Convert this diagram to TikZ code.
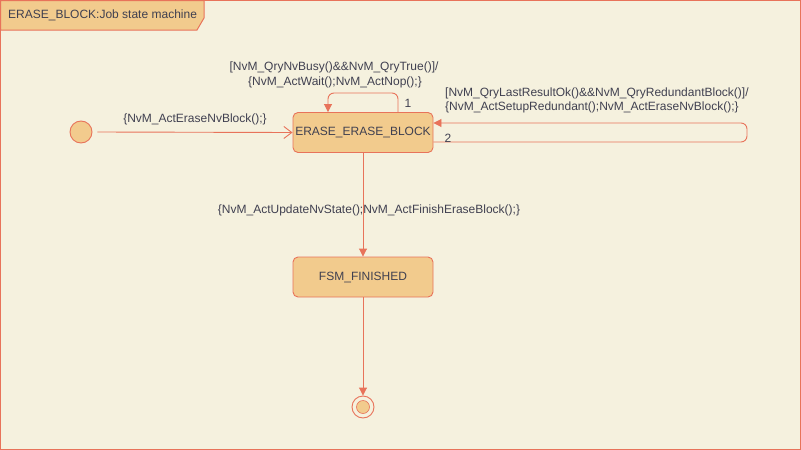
\documentclass[tikz,border=0pt]{standalone}
\usepackage{fontspec}
\setmainfont{Liberation Sans}
\usetikzlibrary{arrows.meta}
\definecolor{bgc}{HTML}{F5F1DE}
\definecolor{edgec}{HTML}{E8735A}
\definecolor{statec}{HTML}{F2CB8D}
\definecolor{txtc}{HTML}{404050}
\begin{document}
\begin{tikzpicture}[x=1pt,y=-1pt,
  font=\fontsize{12}{14}\selectfont,
  statebox/.style={draw=edgec,fill=statec,rounded corners=5pt,minimum width=140pt,minimum height=40pt,inner sep=0pt,text=txtc,line width=0.9pt},
  lbl/.style={text=txtc,inner sep=0pt},
  trans/.style={draw=edgec,line width=0.9pt,-{Triangle[length=8pt,width=8pt]}},
  opentrans/.style={draw=edgec,line width=0.9pt,-{Straight Barb[length=8pt,width=12pt]}},
  loopline/.style={draw=edgec,line width=0.9pt,rounded corners=6pt,-{Triangle[length=8pt,width=8pt]}}]
\useasboundingbox (0,0) rectangle (801,450);
\fill[bgc] (0,0) rectangle (801,450);
\draw[edgec,line width=1pt] (0.5,0.5) rectangle (800.5,449.5);
% title tab
\draw[edgec,fill=statec,line width=1pt] (0.5,0.5) -- (204,0.5) -- (204,18) -- (197,30) -- (0.5,30) -- cycle;
\node[lbl,anchor=west] (title) at (8,15) {ERASE\_BLOCK:Job state machine};
% states
\node[draw=edgec,fill=statec,circle,minimum size=22pt,inner sep=0pt,line width=0.9pt] (init) at (81,132) {};
\node[statebox] (eeb) at (363,132.5) {ERASE\_ERASE\_BLOCK};
\node[statebox] (fin) at (363,277) {FSM\_FINISHED};
\node[draw=edgec,circle,minimum size=22pt,inner sep=0pt,line width=0.9pt] (final) at (363,407) {};
\node[fill=statec,draw=edgec,circle,minimum size=13pt,inner sep=0pt,line width=0.6pt] (finalin) at (363,407) {};
% initial transition
\draw[opentrans] ([xshift=5pt]init.east) -- (eeb.west);
\node[lbl] (l0) at (195,119) {\{NvM\_ActEraseNvBlock();\}};
% self loop 1
\coordinate (a1) at (398,93);
\coordinate (a2) at (328,93);
\draw[loopline] ([xshift=35pt]eeb.north) -- (a1) -- (a2) -- ([xshift=-35pt]eeb.north);
\node[lbl] (n1) at (408,103) {1};
\node[lbl] (g1a) at (334,67) {[NvM\_QryNvBusy()\&\&NvM\_QryTrue()]/};
\node[lbl] (g1b) at (335,82) {\{NvM\_ActWait();NvM\_ActNop();\}};
% self loop 2
\coordinate (b1) at (747,142);
\coordinate (b2) at (747,123);
\draw[loopline] ([yshift=-9.5pt]eeb.east) -- (b1) -- (b2) -- ([yshift=9.5pt]eeb.east);
\node[lbl] (n2) at (448,138) {2};
\node[lbl,anchor=west] (g2a) at (445,93) {[NvM\_QryLastResultOk()\&\&NvM\_QryRedundantBlock()]/};
\node[lbl,anchor=west] (g2b) at (445,107) {\{NvM\_ActSetupRedundant();NvM\_ActEraseNvBlock();\}};
% to finished
\draw[trans] (eeb.south) -- (fin.north);
\node[lbl] (l3) at (369,210) {\{NvM\_ActUpdateNvState();NvM\_ActFinishEraseBlock();\}};
% to final
\draw[trans] (fin.south) -- (final.north);
\end{tikzpicture}
\end{document}
